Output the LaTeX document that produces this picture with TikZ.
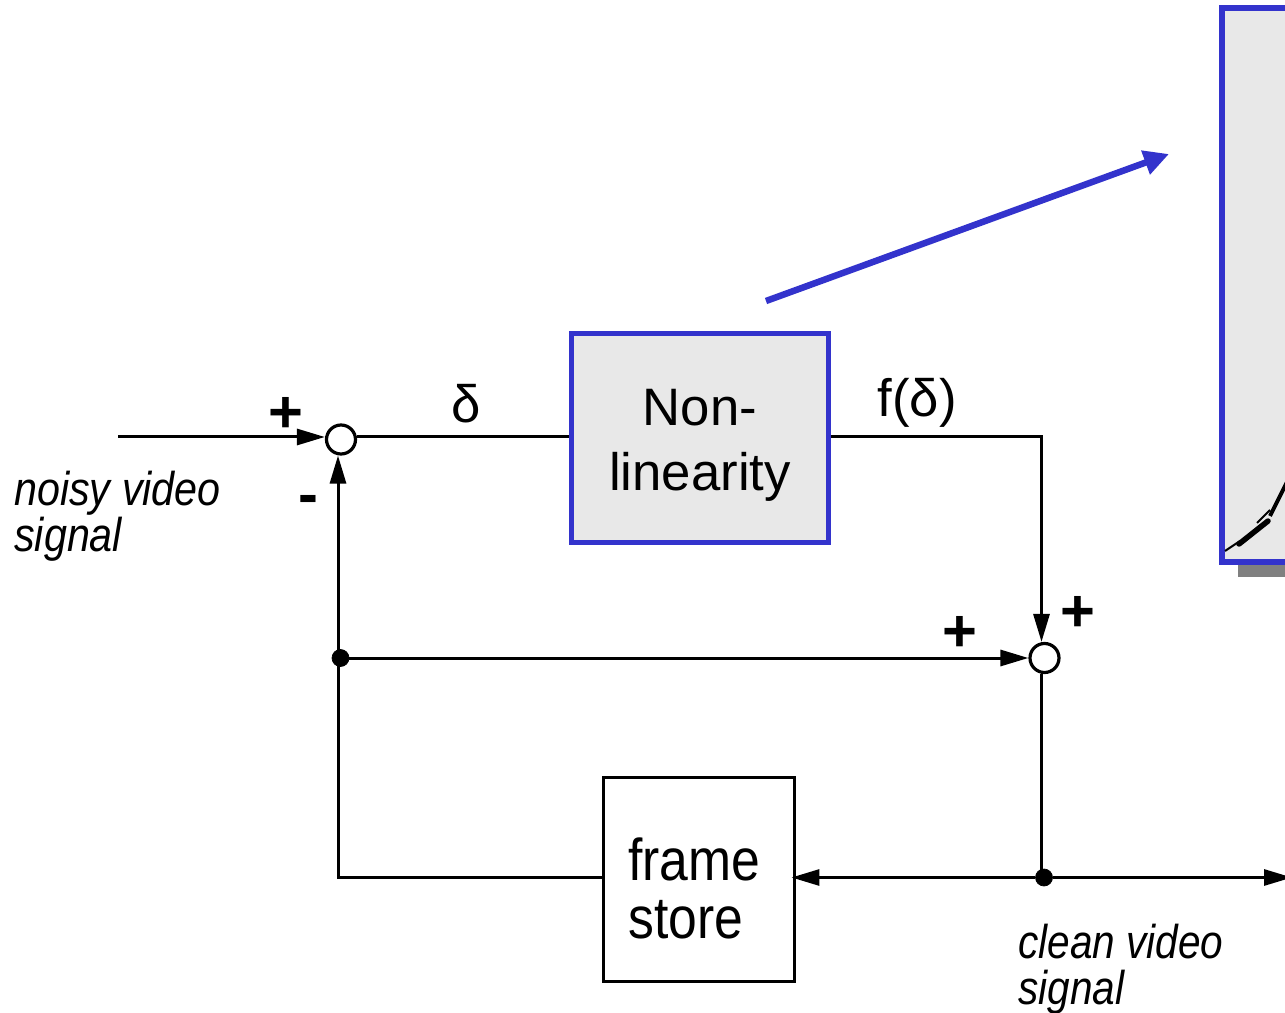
\documentclass[tikz,border=0pt]{standalone}
\usepackage{fontspec}
\setmainfont{Liberation Sans}
\usetikzlibrary{arrows.meta}
\definecolor{boxblue}{HTML}{3333CC}
\definecolor{boxgrey}{HTML}{E8E8E8}
\definecolor{shadowgrey}{HTML}{808080}
\tikzset{
	wire/.style={line width=0.06cm},
	sumnode/.style={draw, circle, fill=white, line width=0.064cm, inner sep=0pt, minimum size=0.58cm},
	dotnode/.style={draw, circle, fill=black, inner sep=0pt, minimum size=0.34cm},
	blockfont/.style={font=\fontsize{30}{37}\selectfont, align=center, inner sep=0pt},
	signfont/.style={font=\fontsize{34}{34}\selectfont\bfseries, inner sep=0pt},
	signalfont/.style={font=\fontsize{27}{26}\selectfont\itshape, align=left, inner sep=0pt, anchor=west},
}
\begin{document}
\begin{tikzpicture}[x=0.02cm, y=-0.02cm, >={Triangle[length=0.56cm, width=0.32cm]}]
	\path [use as bounding box, clip] (0,0) rectangle (1285,1013);
	%Riquadro a destra
	\fill [shadowgrey] (1238,562) rectangle (1300,577);
	\draw [boxblue, fill=boxgrey, line width=0.12cm] (1222,8) rectangle (1320,562);
	\draw [line width=0.04cm] (1225,551) -- (1240,541);
	\draw [line width=0.11cm, line cap=round] (1239,544) -- (1268,521);
	\draw [line width=0.04cm] (1257,523) -- (1270,510);
	\draw [line width=0.08cm] (1270,516) -- (1287,482);
	%Blocchi
	\node [draw=boxblue, fill=boxgrey, line width=0.1cm, minimum width=5.14cm, minimum height=4.18cm] (nonlin) at (700,438) {};
	\node [blockfont] (nonlinlabel) at (700,445) {Non-\\linearity};
	\node [draw, line width=0.06cm, minimum width=3.84cm, minimum height=4.1cm] (framestore) at (699,879.5) {};
	\node [font=\fontsize{30}{29.4}\selectfont, align=left, inner sep=0pt, anchor=west, xscale=0.98, yscale=1.12] (framelabel) at (628,888.5) {frame\\store};
	\node [sumnode] (sumin) at (341,439.5) {};
	\node [sumnode] (sumout) at (1044.5,658) {};
	\node [dotnode] (dotleft) at (340.5,658) {};
	\node [dotnode] (dotright) at (1044,877.5) {};
	\coordinate (noisyin) at (118,437);
	\coordinate (cleanout) at (1292,877.5);
	\coordinate (arrowfrom) at (766,301);
	\coordinate (arrowto) at (1169,154);
	%Collegamenti
	\draw [->, wire] (noisyin) -- (sumin.west |- noisyin);
	\draw [wire] (sumin.east |- noisyin) -- (nonlin.west |- noisyin);
	\draw [->, wire] (nonlin.east |- noisyin) -| ([xshift=-0.06cm]sumout.north);
	\draw [->, wire] (dotleft) -- (sumout.west);
	\draw [wire] ([xshift=-0.06cm]sumout.south) -- ([xshift=-0.06cm]sumout.south |- dotright);
	\draw [->, wire] (framestore.west |- dotright) -| ([xshift=-0.06cm]sumin.south);
	\draw [->, wire] (dotright) -- ([xshift=-0.1cm]framestore.east |- dotright);
	\draw [->, wire] (dotright) -- (cleanout);
	\draw [-{Triangle[length=0.5cm, width=0.48cm]}, boxblue, line width=0.13cm] (arrowfrom) -- (arrowto);
	%Etichette
	\node [font=\fontsize{30}{30}\selectfont, inner sep=0pt] (deltalabel) at (466,404) {δ};
	\node [font=\fontsize{30}{30}\selectfont, inner sep=0pt] (fdeltalabel) at (917,403) {f(δ)};
	\node [signfont] (plusa) at (286,415) {+};
	\node [signfont] (minusa) at (308,505) {-};
	\node [signfont] (plusb) at (960,634) {+};
	\node [signfont] (plusc) at (1078,614) {+};
	\node [signalfont, xscale=0.87] (noisylabel) at (14,516) {noisy video\\signal};
	\node [signalfont, xscale=0.855] (cleanlabel) at (1018,969) {clean video\\signal};
\end{tikzpicture}
\end{document}
